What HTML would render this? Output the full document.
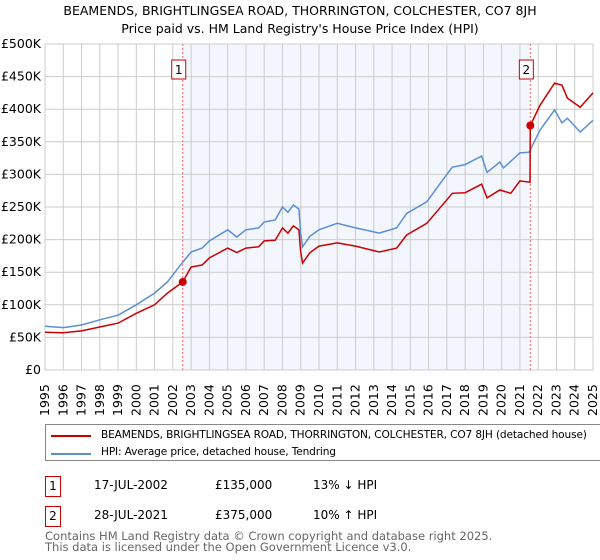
<!DOCTYPE html>
<html><head><meta charset="utf-8"><style>
body{margin:0;background:#fff;font-family:"DejaVu Sans","Liberation Sans",sans-serif;}
#wrap{position:relative;width:600px;height:560px;overflow:hidden;}
.t{position:absolute;font-size:12px;color:#000;white-space:nowrap;}
.box{position:absolute;border:1px solid #c00;width:14px;height:19px;font-size:12px;text-align:center;line-height:19px;}
</style></head><body><div id="wrap">
<div class="t" style="left:0;width:600px;text-align:center;top:3px;font-size:12.5px">BEAMENDS, BRIGHTLINGSEA ROAD, THORRINGTON, COLCHESTER, CO7 8JH</div>
<div class="t" style="left:0;width:600px;text-align:center;top:21px;font-size:12.5px">Price paid vs. HM Land Registry's House Price Index (HPI)</div>
<svg id="chart" width="600" height="420" style="position:absolute;left:0;top:0"></svg>
<div style="position:absolute;left:45px;top:424px;width:560px;height:37px;border:1px solid #888;box-sizing:border-box;">
<div><div style="position:absolute;left:5px;top:10px;width:40px;height:2px;background:#c00"></div><div class="t" style="left:55px;top:4px;font-size:10.6px;letter-spacing:-0.15px">BEAMENDS, BRIGHTLINGSEA ROAD, THORRINGTON, COLCHESTER, CO7 8JH (detached house)</div></div>
<div><div style="position:absolute;left:5px;top:28px;width:40px;height:2px;background:#5b8fd4"></div><div class="t" style="left:55px;top:21px;font-size:10.6px;letter-spacing:-0.15px">HPI: Average price, detached house, Tendring</div></div>
</div>
<div>
<div class="box" style="left:45px;top:476px">1</div>
<div class="t" style="left:94px;top:478px">17-JUL-2002</div>
<div class="t" style="left:215px;top:478px">£135,000</div>
<div class="t" style="left:313px;top:478px">13% ↓ HPI</div></div>
<div>
<div class="box" style="left:45px;top:506px">2</div>
<div class="t" style="left:94px;top:508px">28-JUL-2021</div>
<div class="t" style="left:215px;top:508px">£375,000</div>
<div class="t" style="left:313px;top:508px">10% ↑ HPI</div></div>
<div class="t" style="left:45px;top:531px;color:#666;font-size:11.5px;line-height:11px">Contains HM Land Registry data © Crown copyright and database right 2025.<br>This data is licensed under the Open Government Licence v3.0.</div>
</div>
<script>
const hpiYears=[1995,1996,1997,1998,1999,2000,2001,2001.7,2002.5,2003,2003.6,2004,2005,2005.5,2006,2006.7,2007,2007.6,2008,2008.3,2008.6,2008.9,2009,2009.1,2009.5,2010,2011,2012,2013.3,2014.25,2014.8,2015.9,2016.6,2017.3,2018,2018.9,2019.2,2019.9,2020.1,2021,2021.5,2022.1,2022.9,2023.3,2023.6,2024.3,2025];
const hpiValues=[67,65,69,77,84,100,118,135,164,181,187,198,215,204,215,218,227,230,250,242,253,247,210,189,205,215,225,218,210,218,240,258,285,311,315,328,303,319,310,333,334,368,399,379,386,365,383];
const priceYears=[1995,1996,1997,1998,1999,2000,2001,2001.7,2002.54,2003,2003.6,2004,2005,2005.5,2006,2006.7,2007,2007.6,2008,2008.3,2008.6,2008.9,2009,2009.1,2009.5,2010,2011,2012,2013.3,2014.25,2014.8,2015.9,2016.6,2017.3,2018,2018.9,2019.2,2019.9,2020.5,2021,2021.55,2021.57,2022.1,2022.9,2023.3,2023.6,2024.3,2025];
const priceValues=[58,57,60,66,72,87,100,118,135,158,161,172,187,180,187,189,198,199,218,210,221,215,181,164,180,190,195,190,181,187,207,225,248,271,272,285,264,276,271,290,288,375,406,440,437,417,403,425];
const saleYears=[2002.54,2021.57];
const saleValues=[135,375];
const saleLabels=["1","2"];
const yTicks=[0,50,100,150,200,250,300,350,400,450,500];
const yTickLabels=["£0","£50K","£100K","£150K","£200K","£250K","£300K","£350K","£400K","£450K","£500K"];
const xTicks=[1995,1996,1997,1998,1999,2000,2001,2002,2003,2004,2005,2006,2007,2008,2009,2010,2011,2012,2013,2014,2015,2016,2017,2018,2019,2020,2021,2022,2023,2024,2025];
const L=45,R=593,T=44,B=370;
const X=y=>L+(y-1995)/30*(R-L);
const Y=v=>B-v/500*(B-T);
const svg=document.getElementById('chart');
const NS='http://www.w3.org/2000/svg';
function mk(tag,attrs){const e=document.createElementNS(NS,tag);for(const k in attrs)e.setAttribute(k,attrs[k]);svg.appendChild(e);return e;}
let e=mk('rect',{x:X(saleYears[0]),y:T,width:X(saleYears[1])-X(saleYears[0]),height:B-T,fill:'#eef2fc',opacity:0.7});


yTicks.forEach((v,i)=>{
 let g=mk('line',{x1:L,x2:R,y1:Y(v),y2:Y(v),stroke:'#ccc','stroke-width':1});
 
 
 let t=mk('text',{x:L-4,y:Y(v)+4,'text-anchor':'end','font-size':12.5,'font-family':'DejaVu Sans, Liberation Sans, sans-serif'});
 t.textContent=yTickLabels[i];
 
 
});
xTicks.forEach(y=>{
 let g=mk('line',{x1:X(y),x2:X(y),y1:T,y2:B,stroke:'#ccc','stroke-width':1});
 
 
 let t=mk('text',{transform:`translate(${X(y)+4},${B+46}) rotate(-90)`,'font-size':12.5,'font-family':'DejaVu Sans, Liberation Sans, sans-serif'});
 t.textContent=y;
 
 
});
let fr=mk('rect',{x:L,y:T,width:R-L,height:B-T,fill:'none',stroke:'#ccc'});


saleYears.forEach((y,i)=>{
 let l=mk('line',{x1:X(y),x2:X(y),y1:T,y2:B,stroke:'#f66','stroke-dasharray':'2,2'});
 
 
 let b=mk('rect',{x:X(y)-11,y:60,width:14,height:19,fill:'#fff',stroke:'#c00'});
 
 
 let t=mk('text',{x:X(y)-4,y:74,'text-anchor':'middle','font-size':12,'font-family':'DejaVu Sans, sans-serif'});
 t.textContent=saleLabels[i];
 
 
});
function path(xs,vs){return xs.map((y,i)=>(i?'L':'M')+X(y).toFixed(1)+','+Y(vs[i]).toFixed(1)).join(' ');}
let h=mk('path',{d:path(hpiYears,hpiValues),fill:'none',stroke:'#5b8fd4','stroke-width':1.5});


let p=mk('path',{d:path(priceYears,priceValues),fill:'none',stroke:'#c00','stroke-width':1.5});


saleYears.forEach((y,i)=>{
 let c=mk('circle',{cx:X(y),cy:Y(saleValues[i]),r:4,fill:'#c00'});
 
 
});
</script></body></html>
